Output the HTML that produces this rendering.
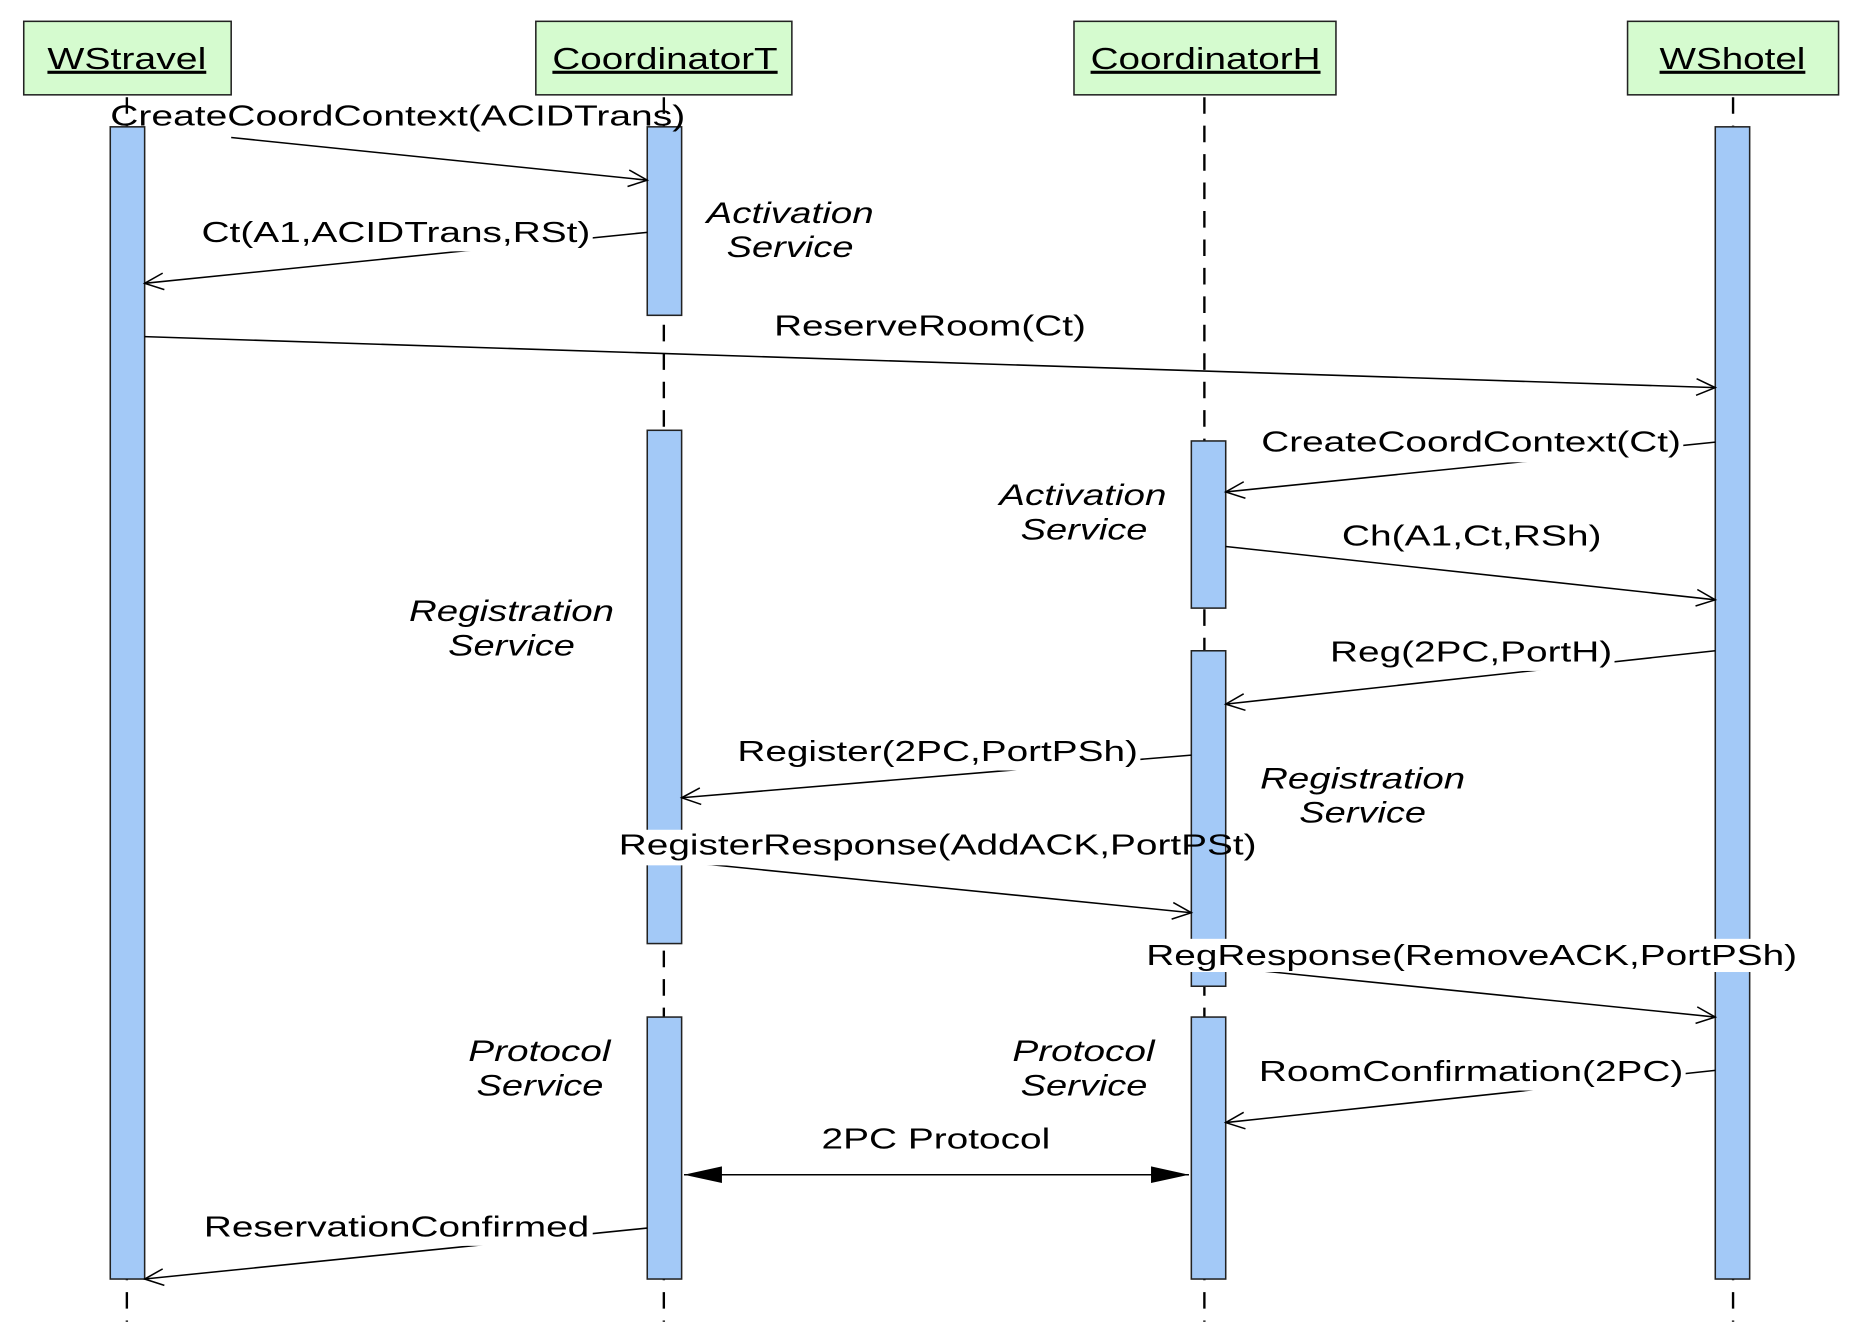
<!DOCTYPE html>
<html><head><meta charset="utf-8"><style>
html,body{margin:0;padding:0;background:#fff;}
svg{display:block;}
text{font-family:"Liberation Sans",Arial,sans-serif;fill:#000;}
</style></head><body>
<svg width="1854" height="1330" viewBox="0 0 1564 1122" xmlns="http://www.w3.org/2000/svg">
<defs>
<marker id="o" markerWidth="20" markerHeight="20" refX="18" refY="10" orient="auto" markerUnits="userSpaceOnUse">
<path d="M2,3 L18,10 L2,17" fill="none" stroke="#000" stroke-width="1.3"/></marker>
<marker id="f" markerWidth="34" markerHeight="20" refX="32" refY="10" orient="auto-start-reverse" markerUnits="userSpaceOnUse">
<path d="M0,3 L32,10 L0,17 Z" fill="#000"/></marker>
</defs>
<rect width="1564" height="1122" fill="#fff"/>
<g stroke="#000" stroke-width="2" stroke-dasharray="14,10">
<line x1="107" y1="82" x2="107" y2="1115"/>
<line x1="560" y1="82" x2="560" y2="1115"/>
<line x1="1016" y1="82" x2="1016" y2="1115"/>
<line x1="1462" y1="82" x2="1462" y2="1115"/>
</g>
<g fill="#d5fbcf" stroke="#222" stroke-width="1.3">
<rect x="20" y="18" width="175" height="62"/>
<rect x="452" y="18" width="216" height="62"/>
<rect x="906" y="18" width="221" height="62"/>
<rect x="1373" y="18" width="178" height="62"/>
</g>
<g font-size="26" text-decoration="underline">
<text x="40" y="58" textLength="134" lengthAdjust="spacingAndGlyphs">WStravel</text>
<text x="466" y="58" textLength="190" lengthAdjust="spacingAndGlyphs">CoordinatorT</text>
<text x="920" y="58" textLength="194" lengthAdjust="spacingAndGlyphs">CoordinatorH</text>
<text x="1400" y="58" textLength="123" lengthAdjust="spacingAndGlyphs">WShotel</text>
</g>
<g fill="#a3c9f7" stroke="#222" stroke-width="1.3">
<rect x="93" y="107" width="29" height="972"/>
<rect x="546" y="107" width="29" height="159"/>
<rect x="546" y="363" width="29" height="433"/>
<rect x="546" y="858" width="29" height="221"/>
<rect x="1005" y="372" width="29" height="141"/>
<rect x="1005" y="549" width="29" height="283"/>
<rect x="1005" y="858" width="29" height="221"/>
<rect x="1447" y="107" width="29" height="972"/>
</g>
<g stroke="#000" stroke-width="1.3" fill="none">
<line x1="195" y1="116" x2="546" y2="152" marker-end="url(#o)"/>
<line x1="546" y1="196" x2="122" y2="239" marker-end="url(#o)"/>
<line x1="122" y1="284" x2="1447" y2="327" marker-end="url(#o)"/>
<line x1="1447" y1="373" x2="1034" y2="415" marker-end="url(#o)"/>
<line x1="1034" y1="461" x2="1447" y2="506" marker-end="url(#o)"/>
<line x1="1447" y1="549" x2="1034" y2="594" marker-end="url(#o)"/>
<line x1="1005" y1="637" x2="575" y2="673" marker-end="url(#o)"/>
<line x1="575" y1="727" x2="1005" y2="770" marker-end="url(#o)"/>
<line x1="1034" y1="816" x2="1447" y2="858" marker-end="url(#o)"/>
<line x1="1447" y1="903" x2="1034" y2="947" marker-end="url(#o)"/>
<line x1="546" y1="1036" x2="122" y2="1079" marker-end="url(#o)"/>
<line x1="577" y1="991" x2="1003" y2="991" marker-start="url(#f)" marker-end="url(#f)"/>
</g>
<g fill="#fff">
<rect x="170" y="182" width="330" height="30"/>
<rect x="1062" y="360" width="358" height="30"/>
<rect x="1120" y="536" width="242" height="30"/>
<rect x="620" y="620" width="342" height="30"/>
<rect x="520" y="700" width="160" height="30"/>
<rect x="965" y="792" width="553" height="28"/>
<rect x="1060" y="890" width="362" height="30"/>
<rect x="170" y="1021" width="330" height="30"/>
</g>
<g font-size="24">
<text x="93" y="106" textLength="485" lengthAdjust="spacingAndGlyphs">CreateCoordContext(ACIDTrans)</text>
<text x="170" y="204" textLength="328" lengthAdjust="spacingAndGlyphs">Ct(A1,ACIDTrans,RSt)</text>
<text x="653" y="283" textLength="263" lengthAdjust="spacingAndGlyphs">ReserveRoom(Ct)</text>
<text x="1064" y="381" textLength="354" lengthAdjust="spacingAndGlyphs">CreateCoordContext(Ct)</text>
<text x="1132" y="460" textLength="219" lengthAdjust="spacingAndGlyphs">Ch(A1,Ct,RSh)</text>
<text x="1122" y="558" textLength="238" lengthAdjust="spacingAndGlyphs">Reg(2PC,PortH)</text>
<text x="622" y="642" textLength="338" lengthAdjust="spacingAndGlyphs">Register(2PC,PortPSh)</text>
<text x="522" y="721" textLength="538" lengthAdjust="spacingAndGlyphs">RegisterResponse(AddACK,PortPSt)</text>
<text x="967" y="814" textLength="549" lengthAdjust="spacingAndGlyphs">RegResponse(RemoveACK,PortPSh)</text>
<text x="1062" y="912" textLength="358" lengthAdjust="spacingAndGlyphs">RoomConfirmation(2PC)</text>
<text x="693" y="969" textLength="193" lengthAdjust="spacingAndGlyphs">2PC Protocol</text>
<text x="172" y="1043" textLength="325" lengthAdjust="spacingAndGlyphs">ReservationConfirmed</text>
</g>
<g font-size="25" font-style="italic">
<text x="596" y="188" textLength="141" lengthAdjust="spacingAndGlyphs">Activation</text><text x="613" y="217" textLength="107" lengthAdjust="spacingAndGlyphs">Service</text>
<text x="843" y="426" textLength="141" lengthAdjust="spacingAndGlyphs">Activation</text><text x="861" y="455" textLength="107" lengthAdjust="spacingAndGlyphs">Service</text>
<text x="345" y="524" textLength="173" lengthAdjust="spacingAndGlyphs">Registration</text><text x="378" y="553" textLength="107" lengthAdjust="spacingAndGlyphs">Service</text>
<text x="1063" y="665" textLength="173" lengthAdjust="spacingAndGlyphs">Registration</text><text x="1096" y="694" textLength="107" lengthAdjust="spacingAndGlyphs">Service</text>
<text x="395" y="895" textLength="120" lengthAdjust="spacingAndGlyphs">Protocol</text><text x="402" y="924" textLength="107" lengthAdjust="spacingAndGlyphs">Service</text>
<text x="854" y="895" textLength="120" lengthAdjust="spacingAndGlyphs">Protocol</text><text x="861" y="924" textLength="107" lengthAdjust="spacingAndGlyphs">Service</text>
</g>
</svg>
</body></html>
